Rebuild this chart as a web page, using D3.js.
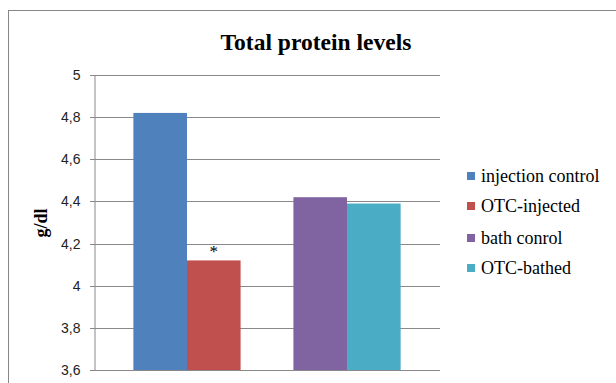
<!DOCTYPE html>
<html><head><meta charset="utf-8">
<script src="https://cdn.jsdelivr.net/npm/d3@7"></script>
<style>html,body{margin:0;padding:0;background:#fff;}svg{display:block;}</style>
</head><body>
<script>
const groups = ["injection", "bath"];
const seriesNames = ["injection control", "OTC-injected", "bath conrol", "OTC-bathed"];
const seriesGroup = ["injection", "injection", "bath", "bath"];
const values = [4.82, 4.12, 4.42, 4.39];
const colors = ["#4F81BD", "#C0504D", "#8064A2", "#4BACC6"];
const yTicks = [3.6, 3.8, 4.0, 4.2, 4.4, 4.6, 4.8, 5.0];
const annotations = [{series: "OTC-injected", text: "*"}];

const W = 616, H = 383;
const svg = d3.select("body").append("svg").attr("width", W).attr("height", H);

// outer chart border
svg.append("rect").attr("x", 8.5).attr("y", 10.5).attr("width", 700).attr("height", 500)
  .attr("fill", "none").attr("stroke", "#878787").attr("stroke-width", 1);

const pLeft = 94, pRight = 440, pTop = 75, pBottom = 370;
const y = d3.scaleLinear().domain([3.6, 5]).range([pBottom, pTop]);
const x0 = d3.scaleBand().domain(groups).range([pLeft, pRight]).paddingInner(0.33).paddingOuter(0.246);

// gridlines
svg.append("g").selectAll("line").data(yTicks).join("line")
  .attr("x1", pLeft - 4).attr("x2", pRight)
  .attr("y1", d => Math.round(y(d)) + 0.5).attr("y2", d => Math.round(y(d)) + 0.5)
  .attr("stroke", "#898989").attr("stroke-width", 1);

// y axis
const yAxis = d3.axisLeft(y).tickValues(yTicks).tickSize(0).tickPadding(14)
  .tickFormat(d => d3.format("~g")(d).replace(".", ","));
const ga = svg.append("g").attr("transform", `translate(${pLeft + 0.5},0)`).call(yAxis);
ga.select(".domain").attr("stroke", "#898989");
ga.selectAll("text").attr("font-family", "'Liberation Sans', Arial, sans-serif")
  .attr("font-size", 14).attr("fill", "#222");

// bars
const perGroup = {};
seriesNames.forEach((s, i) => { (perGroup[seriesGroup[i]] = perGroup[seriesGroup[i]] || []).push(i); });
const barX = i => {
  const g = seriesGroup[i];
  const idx = perGroup[g].indexOf(i);
  const x1 = d3.scaleBand().domain(d3.range(perGroup[g].length)).range([0, x0.bandwidth()]);
  return { x: x0(g) + x1(idx), w: x1.bandwidth() };
};
svg.append("g").selectAll("rect").data(values).join("rect")
  .attr("x", (d, i) => barX(i).x).attr("width", (d, i) => barX(i).w)
  .attr("y", d => y(d)).attr("height", d => y(3.6) - y(d))
  .attr("fill", (d, i) => colors[i]);

// annotation
annotations.forEach(a => {
  const i = seriesNames.indexOf(a.series);
  const b = barX(i);
  svg.append("text").attr("x", b.x + b.w / 2).attr("y", y(values[i]) - 3)
    .attr("text-anchor", "middle").attr("font-family", "'Liberation Serif', serif")
    .attr("font-size", 17).attr("fill", "#000").text(a.text);
});

// title
svg.append("text").attr("x", 316).attr("y", 50).attr("text-anchor", "middle")
  .attr("font-family", "'Liberation Serif', 'Times New Roman', serif").attr("font-weight", "bold")
  .attr("font-size", 23).attr("textLength", 191).attr("lengthAdjust", "spacingAndGlyphs")
  .attr("fill", "#000").text("Total protein levels");

// y label
svg.append("text").attr("transform", "translate(47,223) rotate(-90)").attr("text-anchor", "middle")
  .attr("font-family", "'Liberation Serif', serif").attr("font-weight", "bold")
  .attr("font-size", 18).attr("fill", "#000").text("g/dl");

// legend
const legendY = [176, 206, 238, 268];
const lg = svg.append("g").selectAll("g").data(seriesNames).join("g")
  .attr("transform", (d, i) => `translate(467,${legendY[i]})`);
lg.append("rect").attr("x", 0).attr("y", -4).attr("width", 8).attr("height", 8)
  .attr("fill", (d, i) => colors[i]);
lg.append("text").attr("x", 14).attr("y", 0).attr("dy", "0.35em")
  .attr("font-family", "'Liberation Serif', 'Times New Roman', serif")
  .attr("font-size", 18).attr("fill", "#000").text(d => d);
</script>
</body></html>
